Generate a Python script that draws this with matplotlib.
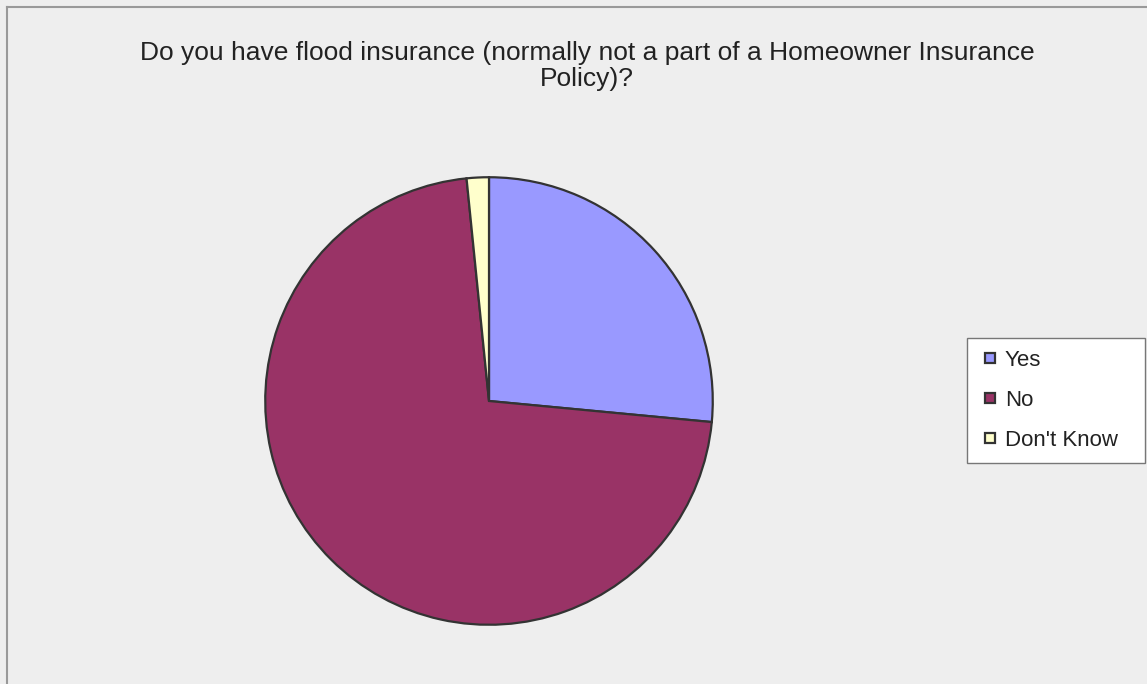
import matplotlib.pyplot as plt
from matplotlib.lines import Line2D

# Survey answers (share of respondents, %)
labels = ['Yes', 'No', "Don't Know"]
values = [26.5, 71.9, 1.6]
colors = ['#9999FF', '#993366', '#FFFFCC']

plt.rcParams['font.family'] = ['Liberation Sans', 'DejaVu Sans']

fig = plt.figure(figsize=(11.47, 6.84), dpi=100)
fig.patch.set_facecolor('#EEEEEE')

# top/left border of the chart area
fig.add_artist(Line2D([7 / 1147, 7 / 1147], [0, 1 - 7 / 684], transform=fig.transFigure,
                      color='#999999', lw=1.5))
fig.add_artist(Line2D([7 / 1147, 1], [1 - 7 / 684, 1 - 7 / 684], transform=fig.transFigure,
                      color='#999999', lw=1.5))

ax = fig.add_axes([263 / 1147, (684 - 627) / 684, 452 / 1147, 452 / 684])
ax.set_facecolor('none')
wedges, _ = ax.pie(values, colors=colors, startangle=90, counterclock=False,
                   radius=1, wedgeprops={'edgecolor': '#333333', 'linewidth': 1.6})
ax.set_xlim(-1.01, 1.01)
ax.set_ylim(-1.01, 1.01)
ax.set_aspect('auto')

fig.text(587 / 1147, 1 - 66 / 684,
         'Do you have flood insurance (normally not a part of a Homeowner Insurance\nPolicy)?',
         ha='center', va='center', fontsize=19, color='#222222', linespacing=1.08)

handles = [Line2D([], [], marker='s', ls='none', markersize=7.5, markerfacecolor=c,
                  markeredgecolor='#333333', markeredgewidth=1.6) for c in colors]
leg = fig.legend(handles, labels, loc='center', mode='expand',
                 bbox_to_anchor=(967 / 1147, 1 - 464 / 684, 178 / 1147, 127 / 684),
                 fontsize=16, frameon=True, fancybox=False, framealpha=1, handlelength=1.0,
                 handletextpad=0.15, labelspacing=0.85, borderpad=0.55, borderaxespad=0)
leg.get_frame().set_edgecolor('#777777')
leg.get_frame().set_linewidth(1)
leg.get_frame().set_facecolor('white')
for t in leg.get_texts():
    t.set_color('#222222')

plt.savefig('out.png', dpi=100, facecolor=fig.get_facecolor())
